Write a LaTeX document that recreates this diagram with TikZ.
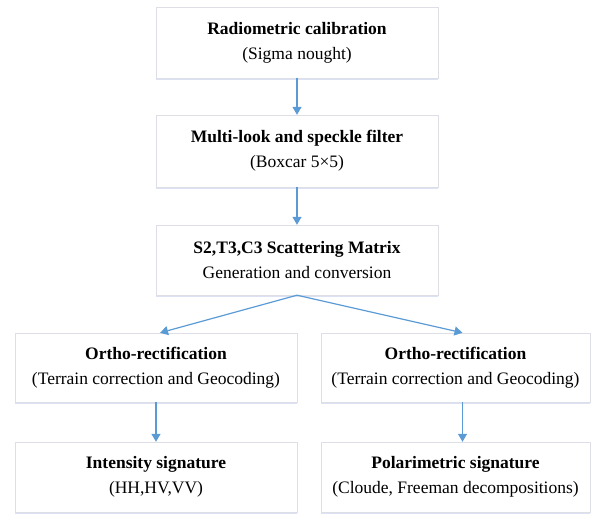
\documentclass[tikz,border=0pt]{standalone}
\usepackage{fontspec}
\setmainfont{Liberation Serif}
\usetikzlibrary{arrows.meta,shadows}

\definecolor{flowblue}{RGB}{91,155,213}
\definecolor{boxedge}{RGB}{222,222,230}
\definecolor{boxshade}{RGB}{220,226,244}

\begin{document}
\begin{tikzpicture}[x=1pt, y=-1pt,
  every node/.style={rectangle, draw=boxedge, fill=white, align=center, inner sep=2pt,
    font=\fontsize{17.5}{25}\selectfont,
    drop shadow={shadow xshift=0pt, shadow yshift=-1.8pt, fill=boxshade, opacity=1}},
  flow/.style={-{Triangle[length=8pt, width=9pt]}, flowblue, line width=1.2pt}]
\useasboundingbox (0,0) rectangle (592,514);

\node[minimum width=282pt, minimum height=71pt] (radio) at (297,42.5)
  {\textbf{Radiometric calibration}\\(Sigma nought)};
\node[minimum width=282pt, minimum height=72pt] (multi) at (297,151)
  {\textbf{Multi-look and speckle filter}\\(Boxcar 5×5)};
\node[minimum width=282pt, minimum height=70pt] (scatter) at (297,260)
  {\textbf{S2,T3,C3 Scattering Matrix}\\Generation and conversion};

\node[minimum width=282pt, minimum height=69pt] (orthoL) at (156,367.5)
  {\textbf{Ortho-rectification}\\(Terrain correction and Geocoding)};
\node[minimum width=269pt, minimum height=69pt] (orthoR) at (455.5,367.5)
  {\textbf{Ortho-rectification}\\(Terrain correction and Geocoding)};

\node[minimum width=282pt, minimum height=70pt] (intens) at (156,477)
  {\textbf{Intensity signature}\\(HH,HV,VV)};
\node[minimum width=269pt, minimum height=70pt] (polar) at (455.5,477)
  {\textbf{Polarimetric signature}\\(Cloude, Freeman decompositions)};

\draw[flow] (radio) -- (multi);
\draw[flow] (multi) -- (scatter);
\draw[flow] (scatter.south) -- ([xshift=4pt]orthoL.north);
\draw[flow] (scatter.south) -- ([xshift=7pt]orthoR.north);
\draw[flow] (orthoL) -- (intens);
\draw[flow] ([xshift=7pt]orthoR.south) -- ([xshift=7pt]polar.north);
\end{tikzpicture}
\end{document}
